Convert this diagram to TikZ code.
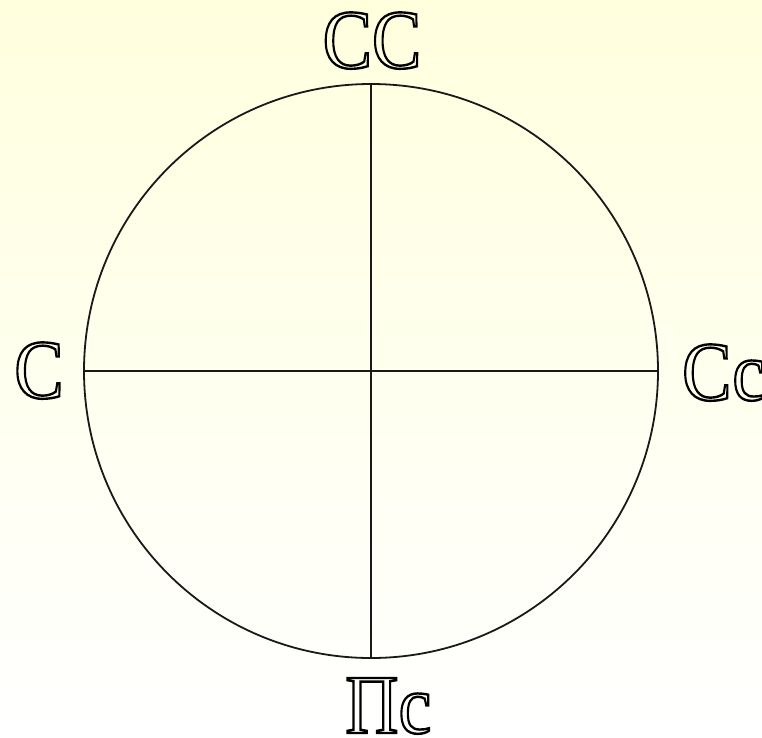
\documentclass[tikz,border=0pt]{standalone}
\usepackage{fontspec}
\setmainfont{Liberation Serif}
\definecolor{bgtop}{RGB}{255,255,222}
\newcommand{\outl}[1]{\special{pdf:literal 1 Tr 2.4 w}#1\special{pdf:literal 0 Tr}}
\tikzset{
  lbl/.style={inner sep=0pt, font=\fontsize{84}{84}\selectfont, xscale=0.88, text=black},
  ln/.style={line width=1.8pt, draw=black!90}
}
\begin{document}
\begin{tikzpicture}[x=1pt,y=-1pt]
\useasboundingbox (0,0) rectangle (762,737);
\fill[top color=bgtop, bottom color=white] (0,0) rectangle (762,737);
\coordinate (c) at (371,371);
\coordinate (t) at (371,84);
\coordinate (b) at (371,658);
\coordinate (l) at (84,371);
\coordinate (r) at (658,371);
\draw[ln] (c) circle[radius=287];
\draw[ln] (t) -- (b);
\draw[ln] (l) -- (r);
\node[lbl, anchor=base] (top) at (372,68) {\outl{СС}};
\node[lbl, anchor=base] (left) at (39,398) {\outl{С}};
\node[lbl, anchor=base west] (right) at (682,400) {\outl{Сс}};
\node[lbl, anchor=base west] (bottom) at (345,733) {\outl{Пс}};
\end{tikzpicture}
\end{document}
